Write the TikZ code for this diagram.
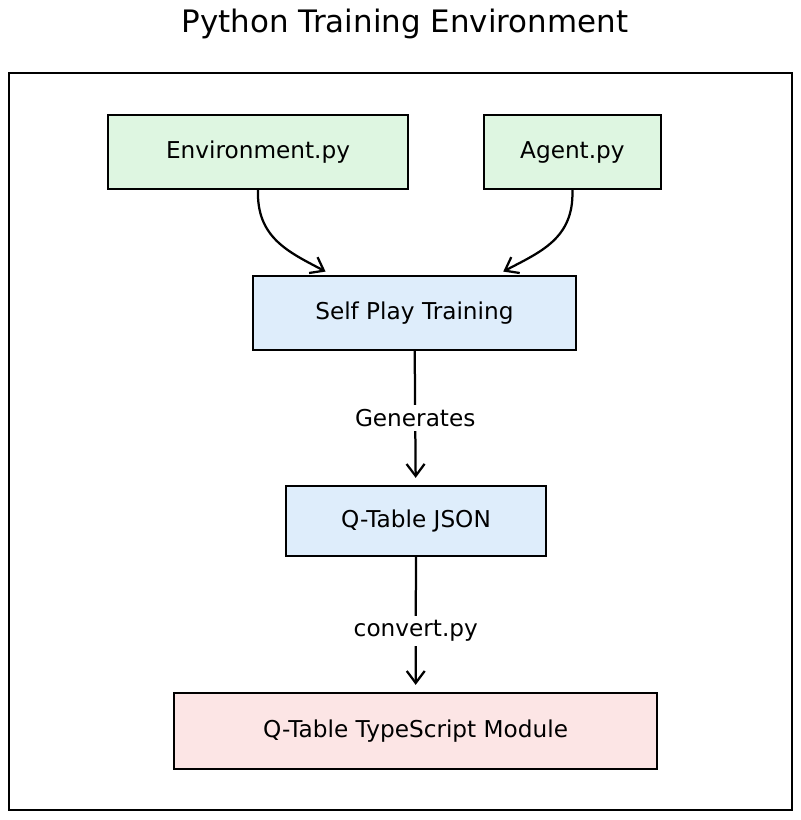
\documentclass[tikz,border=0pt]{standalone}
\usepackage{fontspec}
\setmainfont{DejaVu Sans}
\usetikzlibrary{positioning,arrows.meta,patterns.meta}
\definecolor{greenhatch}{RGB}{165,228,172}
\definecolor{greenbg}{RGB}{222,246,225}
\definecolor{bluehatch}{RGB}{175,212,242}
\definecolor{bluebg}{RGB}{222,237,251}
\definecolor{redhatch}{RGB}{246,196,196}
\definecolor{redbg}{RGB}{252,229,229}
\def\dx{1cm}
\def\dy{1.5cm}
\tikzstyle{block}=[draw,line width=1.6pt,minimum height=1.85cm,
  font=\fontsize{16.5}{19}\selectfont]
\tikzstyle{greenblock}=[block,preaction={fill=greenbg},
  pattern={Lines[angle=45,distance=5pt,line width=0.9pt]},pattern color=greenhatch,
  postaction={pattern={Lines[angle=-45,distance=5pt,line width=0.9pt]},pattern color=greenhatch}]
\tikzstyle{blueblock}=[block,preaction={fill=bluebg},
  pattern={Lines[angle=45,distance=5pt,line width=0.9pt]},pattern color=bluehatch,
  postaction={pattern={Lines[angle=-45,distance=5pt,line width=0.9pt]},pattern color=bluehatch}]
\tikzstyle{redblock}=[block,preaction={fill=redbg},
  pattern={Lines[angle=45,distance=5pt,line width=0.9pt]},pattern color=redhatch,
  postaction={pattern={Lines[angle=-45,distance=5pt,line width=0.9pt]},pattern color=redhatch}]
\tikzstyle{flowlabel}=[fill=white,font=\fontsize{16.5}{19}\selectfont]
\newcommand{\newBlock}[4]{\node[#3](#1) at #4 {#2};}
\newcommand{\newFlow}[4]{\path[->] (#1) edge [#4] node[flowlabel] {#3} (#2);}

\begin{document}
\begin{tikzpicture}[node distance=\dy and \dx,
  >={Straight Barb[length=0.3cm,width=0.45cm]},shorten >=5pt,
  line width=1.6pt  %semithick, thick
  ]
  \useasboundingbox (0,0) rectangle (20,-20.5);
  \node[font=\fontsize{22}{26}\selectfont] (title) at (10.125,-0.6) {Python Training Environment};
  \node[draw,line width=1.3pt,minimum width=19.575cm,minimum height=18.425cm] (frame) at (10.0125,-11.0375) {};
  \newBlock{env}{Environment.py}{greenblock,minimum width=7.5cm}{(6.45,-3.8)}
  \newBlock{agent}{Agent.py}{greenblock,minimum width=4.425cm}{(14.31,-3.8)}
  \newBlock{self}{Self Play Training}{blueblock,minimum width=8.075cm}{(10.36,-7.825)}
  \newBlock{json}{Q-Table JSON}{blueblock,minimum width=6.5cm,minimum height=1.75cm}{(10.4,-13.025)}
  \newBlock{ts}{Q-Table TypeScript Module}{redblock,minimum width=12.075cm,minimum height=1.9cm}{(10.39,-18.275)}
  \draw[->] (env.south) to[out=-92,in=152,looseness=1.1] ([xshift=2cm]self.north west);
  \draw[->] (agent.south) to[out=-88,in=28,looseness=1.1] ([xshift=-2cm]self.north east);
  \newFlow{self}{json}{Generates}{}
  \newFlow{json}{ts}{convert.py}{pos=0.55}
\end{tikzpicture}
\end{document}
